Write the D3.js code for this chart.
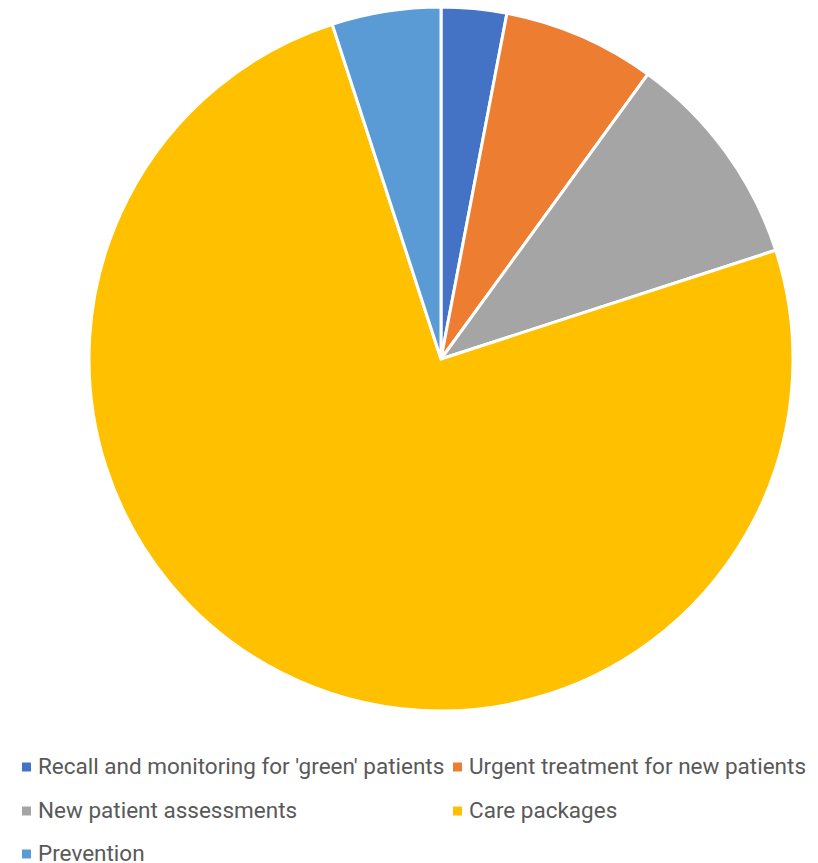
<!DOCTYPE html>
<html>
<head>
<meta charset="utf-8">
<script src="https://cdn.jsdelivr.net/npm/d3@7"></script>
<style>
  html, body { margin: 0; padding: 0; background: #fff; }
  svg { display: block; }
</style>
</head>
<body>
<div id="chart"></div>
<script>
// slice data, clockwise from 12 o'clock
const categories = [
  "Recall and monitoring for 'green' patients",
  'Urgent treatment for new patients',
  'New patient assessments',
  'Care packages',
  'Prevention'
];
const values = [3, 7, 10, 75, 5];
const sliceColors = ['#4472C4', '#ED7D31', '#A5A5A5', '#FFC000', '#5B9BD5'];

const W = 818, H = 863;
const cx = 441, cy = 359, radius = 352;

const svg = d3.select('#chart').append('svg')
  .attr('width', W)
  .attr('height', H);

const data = categories.map((c, i) => ({ name: c, value: values[i], color: sliceColors[i] }));

const pie = d3.pie().sort(null).value(d => d.value);
const arc = d3.arc().innerRadius(0).outerRadius(radius);

const g = svg.append('g').attr('transform', `translate(${cx},${cy})`);

g.selectAll('path')
  .data(pie(data))
  .join('path')
  .attr('d', arc)
  .attr('fill', d => d.data.color)
  .attr('stroke', '#fff')
  .attr('stroke-width', 3)
  .attr('stroke-linejoin', 'round');

// legend, two columns; row y = text baseline
const legendCols = [22, 453];
const legendRows = [774, 818, 861];

const legend = svg.append('g').attr('class', 'legend');
const items = legend.selectAll('g')
  .data(data)
  .join('g')
  .attr('transform', (d, i) => `translate(${legendCols[i % 2]},${legendRows[Math.floor(i / 2)]})`);

items.append('rect')
  .attr('x', 0)
  .attr('y', -11.5)
  .attr('width', 9)
  .attr('height', 9)
  .attr('fill', d => d.color);

items.append('text')
  .attr('x', 16)
  .attr('y', 0)
  .attr('font-family', "'Roboto', sans-serif")
  .attr('font-size', 22.5)
  .attr('fill', '#595959')
  .text(d => d.name);
</script>
</body>
</html>
